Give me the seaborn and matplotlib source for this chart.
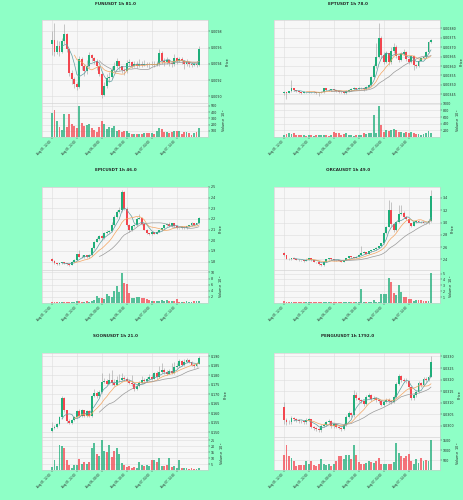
import numpy as np
import pandas as pd
import matplotlib
matplotlib.use("Agg")
import matplotlib.pyplot as plt
import seaborn as sns
from matplotlib.ticker import MultipleLocator, FormatStrFormatter

# 60 hourly candles per coin, Aug 05 12:00 -> Aug 07 23:00
tick_pos = [0, 10, 20, 30, 40, 50]
tick_labels = ["Aug 05, 12:00", "Aug 05, 22:00", "Aug 06, 08:00",
               "Aug 06, 18:00", "Aug 07, 04:00", "Aug 07, 14:00"]

# FUNUSDT (prices in 1e-5, volume in 1e6)
fun_open0 = 964
fun_close = [969, 955, 962, 955, 968, 977, 958, 929, 921, 915,
             912, 946, 938, 931, 937, 951, 947, 944, 937, 928,
             902, 913, 923, 924, 933, 938, 943, 937, 933, 931,
             941, 942, 938, 940, 938, 940, 939, 940, 939, 938.5,
             940, 939, 940.5, 954, 944, 942, 945, 941, 940, 947,
             944, 946, 943, 940, 942, 940, 939, 940, 939, 958]
fun_high = [980, 990, 970, 968, 972, 989, 978, 960, 932, 924,
            918, 950, 948, 940, 945, 955, 952, 948, 946, 939,
            930, 918, 928, 930, 937, 942, 947, 944, 938, 935,
            945, 946, 944, 943, 944, 946, 943, 945, 942, 942,
            944, 944, 944, 958, 956, 947, 948, 946, 944, 952,
            948, 949, 948, 945, 946, 943, 942, 942, 942, 962]
fun_low = [951, 950, 952, 950, 953, 965, 955, 925, 915, 910,
           908, 910, 933, 925, 928, 935, 943, 940, 933, 925,
           898, 900, 910, 918, 922, 930, 935, 933, 929, 927,
           929, 938, 935, 936, 935, 936, 936, 937, 936, 935,
           937, 936, 937, 938, 940, 938, 940, 938, 936, 938,
           940, 942, 940, 934, 937, 936, 936, 937, 936, 937]
fun_vol = [378, 432, 259, 162, 119, 362, 162, 368, 216, 173,
           151, 497, 227, 173, 189, 216, 151, 119, 86, 162,
           259, 216, 135, 162, 151, 173, 97, 119, 81, 97,
           92, 65, 54, 54, 54, 43, 43, 65, 59, 70,
           65, 54, 97, 146, 135, 81, 76, 65, 81, 97,
           92, 97, 54, 86, 81, 70, 38, 65, 76, 151]

# EPTUSDT (prices in 1e-6, volume in 1e6)
ept_open0 = 3459
ept_close = [3460, 3457, 3466, 3483, 3471, 3466, 3460, 3457, 3462, 3460,
             3462, 3460, 3462, 3459, 3460, 3462, 3481, 3473, 3471, 3476,
             3471, 3467, 3464, 3460, 3455, 3467, 3473, 3478, 3483, 3478,
             3483, 3485, 3476, 3488, 3501, 3541, 3598, 3650, 3747, 3659,
             3624, 3668, 3619, 3682, 3703, 3654, 3633, 3664, 3677, 3636,
             3624, 3654, 3606, 3601, 3629, 3640, 3650, 3675, 3728, 3737]
ept_high = [3466, 3462, 3470, 3527, 3484, 3472, 3468, 3462, 3466, 3464,
            3466, 3464, 3466, 3464, 3464, 3466, 3486, 3482, 3476, 3480,
            3477, 3473, 3469, 3466, 3462, 3471, 3477, 3482, 3488, 3485,
            3487, 3490, 3487, 3493, 3506, 3548, 3610, 3721, 3826, 3760,
            3672, 3680, 3670, 3700, 3721, 3710, 3660, 3672, 3690, 3680,
            3640, 3660, 3658, 3612, 3635, 3645, 3656, 3682, 3735, 3745]
ept_low = [3445, 3425, 3455, 3462, 3466, 3461, 3455, 3452, 3455, 3455,
           3457, 3455, 3457, 3452, 3439, 3456, 3458, 3468, 3466, 3468,
           3465, 3462, 3459, 3455, 3450, 3452, 3464, 3469, 3475, 3473,
           3474, 3480, 3470, 3473, 3485, 3495, 3535, 3590, 3640, 3640,
           3610, 3615, 3605, 3612, 3670, 3645, 3620, 3625, 3660, 3625,
           3610, 3618, 3580, 3590, 3595, 3625, 3635, 3645, 3670, 3720]
ept_vol = [60, 90, 110, 80, 110, 60, 50, 50, 50, 40,
           50, 50, 40, 50, 60, 50, 60, 50, 40, 50,
           160, 110, 130, 60, 80, 110, 60, 50, 30, 50,
           60, 70, 110, 90, 110, 110, 660, 130, 930, 350,
           160, 210, 180, 210, 230, 210, 160, 140, 110, 160,
           130, 140, 110, 80, 80, 60, 80, 110, 190, 130]

# EPICUSDT (volume in 1e5)
epic_open0 = 1.821
epic_close = [1.808, 1.784, 1.774, 1.784, 1.793, 1.784, 1.774, 1.768, 1.799, 1.815,
              1.868, 1.846, 1.843, 1.861, 1.840, 1.861, 1.924, 1.986, 2.008, 2.039,
              2.017, 2.064, 2.079, 2.089, 2.142, 2.220, 2.266, 2.282, 2.453, 2.297,
              2.142, 2.095, 2.132, 2.142, 2.204, 2.213, 2.151, 2.101, 2.064, 2.058,
              2.076, 2.061, 2.079, 2.095, 2.111, 2.139, 2.151, 2.132, 2.160, 2.132,
              2.114, 2.111, 2.129, 2.114, 2.132, 2.139, 2.160, 2.145, 2.160, 2.213]
epic_high = [1.830, 1.812, 1.790, 1.790, 1.800, 1.797, 1.788, 1.778, 1.805, 1.822,
             1.875, 1.908, 1.860, 1.866, 1.865, 1.868, 1.935, 1.995, 2.030, 2.050,
             2.050, 2.075, 2.095, 2.100, 2.170, 2.235, 2.280, 2.313, 2.469, 2.460,
             2.310, 2.150, 2.140, 2.150, 2.215, 2.245, 2.220, 2.155, 2.105, 2.070,
             2.082, 2.080, 2.085, 2.100, 2.118, 2.145, 2.165, 2.175, 2.166, 2.165,
             2.140, 2.118, 2.135, 2.135, 2.138, 2.145, 2.168, 2.165, 2.166, 2.222]
epic_low = [1.800, 1.778, 1.766, 1.768, 1.780, 1.778, 1.768, 1.760, 1.765, 1.795,
            1.810, 1.840, 1.835, 1.838, 1.832, 1.835, 1.855, 1.918, 1.980, 2.000,
            2.005, 2.010, 2.055, 2.070, 2.080, 2.135, 2.210, 2.255, 2.270, 2.280,
            2.130, 2.080, 2.085, 2.125, 2.135, 2.195, 2.145, 2.095, 2.055, 2.045,
            2.050, 2.055, 2.055, 2.075, 2.090, 2.105, 2.135, 2.125, 2.128, 2.125,
            2.105, 2.102, 2.108, 2.105, 2.110, 2.125, 2.135, 2.140, 2.140, 2.155]
epic_vol = [0.3, 0.3, 0.2, 0.3, 0.3, 0.2, 0.3, 0.2, 0.4, 0.3,
            0.5, 0.6, 0.4, 0.3, 0.5, 0.4, 0.8, 1.1, 2.2, 1.7,
            1.7, 1.3, 2.9, 2.2, 1.8, 4.0, 5.6, 3.7, 9.8, 6.6,
            6.2, 3.2, 1.6, 1.5, 2.0, 2.0, 1.7, 1.5, 1.2, 1.0,
            0.7, 0.5, 0.8, 0.5, 1.0, 0.8, 1.0, 0.6, 0.8, 0.5,
            1.2, 0.4, 0.4, 0.4, 0.5, 0.4, 0.4, 0.5, 0.5, 0.6]

# ORCAUSDT (volume in 1e5)
orca_open0 = 2.508
orca_close = [2.465, 2.411, 2.400, 2.422, 2.411, 2.395, 2.389, 2.384, 2.373, 2.395,
              2.422, 2.389, 2.362, 2.351, 2.324, 2.308, 2.362, 2.400, 2.422, 2.400,
              2.389, 2.384, 2.378, 2.362, 2.389, 2.416, 2.449, 2.438, 2.422, 2.443,
              2.470, 2.508, 2.519, 2.492, 2.530, 2.551, 2.562, 2.589, 2.616, 2.659,
              2.822, 2.930, 3.211, 2.973, 2.876, 3.005, 3.146, 3.157, 3.092, 3.049,
              2.995, 2.946, 3.005, 3.032, 3.016, 3.005, 2.995, 2.984, 3.022, 3.427]
orca_high = [2.515, 2.470, 2.415, 2.430, 2.425, 2.415, 2.400, 2.392, 2.385, 2.400,
             2.430, 2.425, 2.392, 2.365, 2.355, 2.330, 2.370, 2.410, 2.430, 2.425,
             2.405, 2.392, 2.388, 2.380, 2.395, 2.425, 2.460, 2.455, 2.440, 2.450,
             2.480, 2.616, 2.530, 2.525, 2.540, 2.560, 2.570, 2.600, 2.625, 2.670,
             2.840, 2.950, 3.362, 3.330, 3.000, 3.020, 3.280, 3.290, 3.180, 3.100,
             3.055, 3.000, 3.012, 3.045, 3.035, 3.020, 3.010, 3.000, 3.030, 3.524]
orca_low = [2.455, 2.400, 2.390, 2.395, 2.400, 2.385, 2.380, 2.375, 2.365, 2.368,
            2.390, 2.380, 2.355, 2.340, 2.315, 2.300, 2.300, 2.355, 2.395, 2.395,
            2.380, 2.375, 2.370, 2.355, 2.355, 2.385, 2.410, 2.430, 2.415, 2.415,
            2.440, 2.465, 2.500, 2.485, 2.488, 2.525, 2.545, 2.555, 2.585, 2.610,
            2.650, 2.810, 2.920, 2.950, 2.850, 2.860, 2.990, 3.130, 3.080, 3.035,
            2.985, 2.935, 2.940, 3.000, 3.005, 2.995, 2.985, 2.975, 2.975, 3.010]
orca_vol = [0.3, 0.2, 0.1, 0.1, 0.1, 0.1, 0.1, 0.1, 0.1, 0.1,
            0.1, 0.1, 0.1, 0.1, 0.1, 0.1, 0.1, 0.1, 0.1, 0.1,
            0.1, 0.1, 0.1, 0.1, 0.1, 0.1, 0.1, 0.1, 0.1, 0.1,
            0.1, 2.3, 0.2, 0.1, 0.2, 0.1, 0.45, 0.1, 0.2, 1.6,
            1.5, 1.6, 4.3, 3.5, 1.7, 1.3, 3.1, 1.9, 1.0, 1.0,
            0.7, 0.6, 0.4, 0.45, 0.5, 0.45, 0.4, 0.4, 0.35, 5.1]

# SOONUSDT (prices in 1e-3, volume in 1e5)
soon_open0 = 150.7
soon_close = [152.5, 152.8, 154.1, 157.8, 167.9, 161.7, 156.0, 155.0, 156.4, 157.8,
              161.2, 158.5, 161.5, 158.8, 161.2, 158.7, 169.1, 170.5, 169.0, 171.3,
              176.7, 177.1, 175.7, 177.3, 175.8, 175.0, 177.3, 177.6, 178.5, 178.0,
              177.1, 176.2, 175.2, 172.7, 174.6, 176.2, 177.5, 176.8, 178.2, 179.2,
              178.3, 181.2, 179.0, 181.7, 182.7, 181.7, 180.8, 182.2, 181.2, 184.2,
              185.0, 187.5, 185.4, 186.8, 188.1, 187.0, 185.6, 184.7, 186.1, 188.9]
soon_high = [155.6, 154.0, 155.0, 158.5, 169.0, 168.5, 162.0, 157.0, 157.2, 158.5,
             162.0, 162.5, 162.3, 162.0, 162.0, 161.8, 169.8, 173.0, 171.5, 172.5,
             181.0, 178.5, 178.0, 181.5, 182.9, 178.0, 179.5, 180.5, 181.2, 179.8,
             179.0, 178.0, 180.0, 176.0, 175.5, 177.0, 179.5, 178.5, 179.0, 180.5,
             180.5, 182.0, 182.5, 185.0, 186.5, 184.0, 183.0, 183.5, 186.5, 187.0,
             186.5, 188.5, 188.0, 188.5, 189.0, 188.8, 187.5, 186.0, 187.0, 190.0]
soon_low = [150.0, 151.5, 152.5, 153.8, 157.0, 160.5, 155.0, 154.3, 154.5, 155.8,
            157.5, 157.8, 158.0, 158.0, 158.3, 158.0, 158.0, 168.5, 168.2, 168.5,
            170.8, 175.8, 175.0, 175.2, 175.0, 174.2, 174.8, 176.6, 177.0, 177.2,
            176.4, 175.4, 174.5, 172.0, 172.3, 174.0, 175.8, 176.0, 176.4, 177.8,
            177.6, 178.0, 178.3, 178.6, 181.0, 180.9, 180.2, 180.5, 180.6, 180.8,
            183.9, 184.5, 185.0, 185.0, 186.5, 186.4, 185.0, 184.0, 184.2, 185.8]
soon_vol = [2.5, 8, 3, 21, 20, 18.5, 8.5, 4, 2, 4,
            4, 9, 5, 6.5, 5, 7, 18.5, 22.5, 13.5, 12,
            25, 16, 15, 21, 10.5, 16, 18.5, 13.5, 5.8, 4,
            2.5, 3, 2, 2.5, 2, 6.3, 4, 3.6, 4, 3,
            8.5, 8.5, 6.5, 10, 3, 3.6, 4, 9.6, 2.5, 3,
            2, 8, 2, 1.6, 1.4, 1.1, 1.4, 0.8, 0.8, 1.4]

# PENGUUSDT (prices in 1e-4, volume in 1e6)
pengu_open0 = 308.0
pengu_close = [302.5, 301.7, 301.6, 303.5, 302.8, 302.5, 302.2, 302.0, 301.7, 302.6,
               302.8, 299.6, 299.1, 298.8, 298.1, 300.1, 300.6, 301.6, 302.0, 299.8,
               300.7, 299.7, 299.3, 298.8, 300.6, 303.9, 305.4, 304.5, 313.3, 312.0,
               311.0, 310.6, 309.6, 312.5, 313.3, 311.6, 312.2, 311.2, 310.6, 309.1,
               310.4, 311.4, 310.6, 310.3, 312.5, 318.0, 321.6, 319.9, 319.6, 319.3,
               316.7, 311.9, 313.2, 314.7, 318.7, 317.7, 320.4, 319.9, 321.2, 327.7]
pengu_high = [310.5, 303.2, 302.4, 304.2, 303.8, 303.2, 302.9, 302.6, 302.4, 303.5,
              303.5, 303.0, 300.0, 299.6, 299.2, 300.8, 301.4, 302.2, 303.0, 302.4,
              301.4, 301.0, 300.1, 299.6, 301.3, 304.6, 306.5, 306.0, 315.5, 314.5,
              312.6, 311.8, 311.2, 313.2, 314.0, 313.8, 313.0, 312.6, 311.8, 310.9,
              311.0, 312.0, 312.0, 311.2, 313.4, 318.8, 322.5, 322.0, 320.8, 320.5,
              320.0, 317.0, 314.0, 315.6, 319.5, 319.0, 321.2, 321.0, 322.0, 330.2]
pengu_low = [301.0, 300.6, 300.8, 301.0, 302.0, 301.8, 301.4, 301.2, 300.9, 301.0,
             301.9, 299.0, 298.4, 298.0, 297.2, 297.5, 299.5, 300.0, 301.0, 299.0,
             299.3, 299.0, 298.6, 298.0, 298.2, 300.0, 303.5, 303.8, 304.0, 311.4,
             310.2, 309.8, 308.8, 309.0, 312.0, 310.8, 311.0, 310.5, 309.8, 308.4,
             308.6, 309.8, 310.0, 309.6, 309.8, 312.0, 317.5, 319.0, 318.8, 318.5,
             316.0, 311.0, 311.2, 312.6, 314.2, 316.9, 317.2, 319.0, 319.3, 321.0]
pengu_vol = [760, 1240, 715, 600, 445, 205, 240, 240, 240, 475,
             285, 430, 240, 205, 285, 555, 285, 240, 300, 205,
             285, 430, 715, 715, 570, 745, 745, 570, 1240, 745,
             400, 320, 320, 335, 475, 400, 335, 445, 600, 300,
             320, 320, 285, 285, 400, 1350, 840, 715, 600, 680,
             810, 475, 285, 555, 365, 600, 445, 490, 440, 1500]

panels = [
    dict(title="FUNUSDT 1h 81.0", o0=fun_open0, c=fun_close, h=fun_high, l=fun_low,
         v=fun_vol, unit=1e-5, ylim=(0.00892, 0.00994), ystep=0.0002, fmt="%.4f",
         vstep=100, vexp=6),
    dict(title="EPTUSDT 1h 78.0", o0=ept_open0, c=ept_close, h=ept_high, l=ept_low,
         v=ept_vol, unit=1e-6, ylim=(0.003404, 0.003844), ystep=0.00005, fmt="%.5f",
         vstep=200, vexp=6),
    dict(title="EPICUSDT 1h 46.0", o0=epic_open0, c=epic_close, h=epic_high, l=epic_low,
         v=epic_vol, unit=1.0, ylim=(1.721, 2.5), ystep=0.1, fmt="%.1f",
         vstep=2, vexp=5),
    dict(title="ORCAUSDT 1h 49.0", o0=orca_open0, c=orca_close, h=orca_high, l=orca_low,
         v=orca_vol, unit=1.0, ylim=(2.227, 3.578), ystep=0.2, fmt="%.1f",
         vstep=1, vexp=5),
    dict(title="SOONUSDT 1h 21.0", o0=soon_open0, c=soon_close, h=soon_high, l=soon_low,
         v=soon_vol, unit=1e-3, ylim=(0.1475, 0.1918), ystep=0.005, fmt="%.3f",
         vstep=5, vexp=5),
    dict(title="PENGUUSDT 1h 1792.0", o0=pengu_open0, c=pengu_close, h=pengu_high,
         l=pengu_low, v=pengu_vol, unit=1e-4, ylim=(0.02952, 0.03315), ystep=0.0005,
         fmt="%.4f", vstep=500, vexp=6),
]

up_col, down_col = "#1fae7a", "#f2464f"
ma_windows = [5, 10, 20]
ma_colors = ["#5f9ea0", "#f4a460", "#999999"]
bg = "#8effc6"

sns.set_theme(style="whitegrid", rc={
    "axes.facecolor": "#f7f7f7", "grid.color": "#dddddd", "grid.linewidth": 0.4,
    "axes.edgecolor": "#cccccc", "axes.linewidth": 0.4,
    "xtick.major.size": 1.2, "ytick.major.size": 1.2,
    "xtick.major.width": 0.3, "ytick.major.width": 0.3,
    "xtick.bottom": True, "ytick.right": True,
})
plt.rcParams["font.family"] = ["DejaVu Sans"]

fig = plt.figure(figsize=(4.64, 5.0), dpi=100, facecolor=bg)
W, H = 464.0, 500.0
col_left = [42, 274]
row_px = [(20, 103, 137), (187, 270, 303), (353, 437, 470)]
title_y = [4, 170, 336]
title_x = [116, 348]

for k, p in enumerate(panels):
    r, cidx = divmod(k, 2)
    top, mid, bot = row_px[r]
    left = col_left[cidx] / W
    width = 166 / W
    ax = fig.add_axes([left, 1 - mid / H, width, (mid - top) / H])
    axv = fig.add_axes([left, 1 - bot / H, width, (bot - mid) / H], sharex=ax)

    close = np.array(p["c"], dtype=float) * p["unit"]
    opn = np.concatenate([[p["o0"] * p["unit"]], close[:-1]])
    high = np.maximum(np.array(p["h"], dtype=float) * p["unit"], np.maximum(opn, close))
    low = np.minimum(np.array(p["l"], dtype=float) * p["unit"], np.minimum(opn, close))
    vol = np.array(p["v"], dtype=float)
    x = np.arange(len(close))
    colors = np.where(close >= opn, up_col, down_col)

    # wicks and bodies
    ax.vlines(x, low, high, color="#a8a8a8", linewidth=0.45, zorder=2)
    ax.bar(x, np.maximum(np.abs(close - opn), (p["ylim"][1] - p["ylim"][0]) * 0.004),
           bottom=np.minimum(opn, close), width=0.75, color=colors, linewidth=0, zorder=3)

    # moving averages
    df = pd.DataFrame({"x": x, "close": close})
    for w, mc in zip(ma_windows, ma_colors):
        df["ma"] = df["close"].rolling(w).mean()
        sns.lineplot(data=df.dropna(), x="x", y="ma", ax=ax, color=mc,
                     linewidth=0.5, zorder=4)

    ax.set_xlim(-4, 62.6)
    ax.set_ylim(*p["ylim"])
    ax.yaxis.set_major_locator(MultipleLocator(p["ystep"]))
    ax.yaxis.set_major_formatter(FormatStrFormatter(p["fmt"]))
    ax.yaxis.tick_right()
    ax.yaxis.set_label_position("right")
    ax.set_ylabel("Price", fontsize=2.5, labelpad=2)
    ax.set_xlabel("")
    ax.tick_params(axis="y", labelsize=2.3, pad=1)
    ax.tick_params(axis="x", labelbottom=False, length=0)
    ax.set_xticks(tick_pos)

    axv.bar(x, vol, width=0.75, color=colors, alpha=0.75, linewidth=0)
    axv.set_ylim(0, max(vol) * 1.1)
    axv.set_yticks(np.arange(p["vstep"], max(vol) * 1.1, p["vstep"]))
    axv.yaxis.tick_right()
    axv.yaxis.set_label_position("right")
    axv.set_ylabel("Volume  $10^{%d}$" % p["vexp"], fontsize=2.5, labelpad=2)
    axv.tick_params(axis="y", labelsize=2.3, pad=1)
    axv.set_xticks(tick_pos)
    axv.set_xticklabels(tick_labels, rotation=45, ha="right", fontsize=2.0)
    axv.tick_params(axis="x", pad=1)

    fig.text(title_x[cidx] / W, 1 - title_y[r] / H, p["title"], ha="center",
             va="center", fontsize=3.0, fontweight="bold")

fig.savefig("out.png", dpi=100, facecolor=bg)
